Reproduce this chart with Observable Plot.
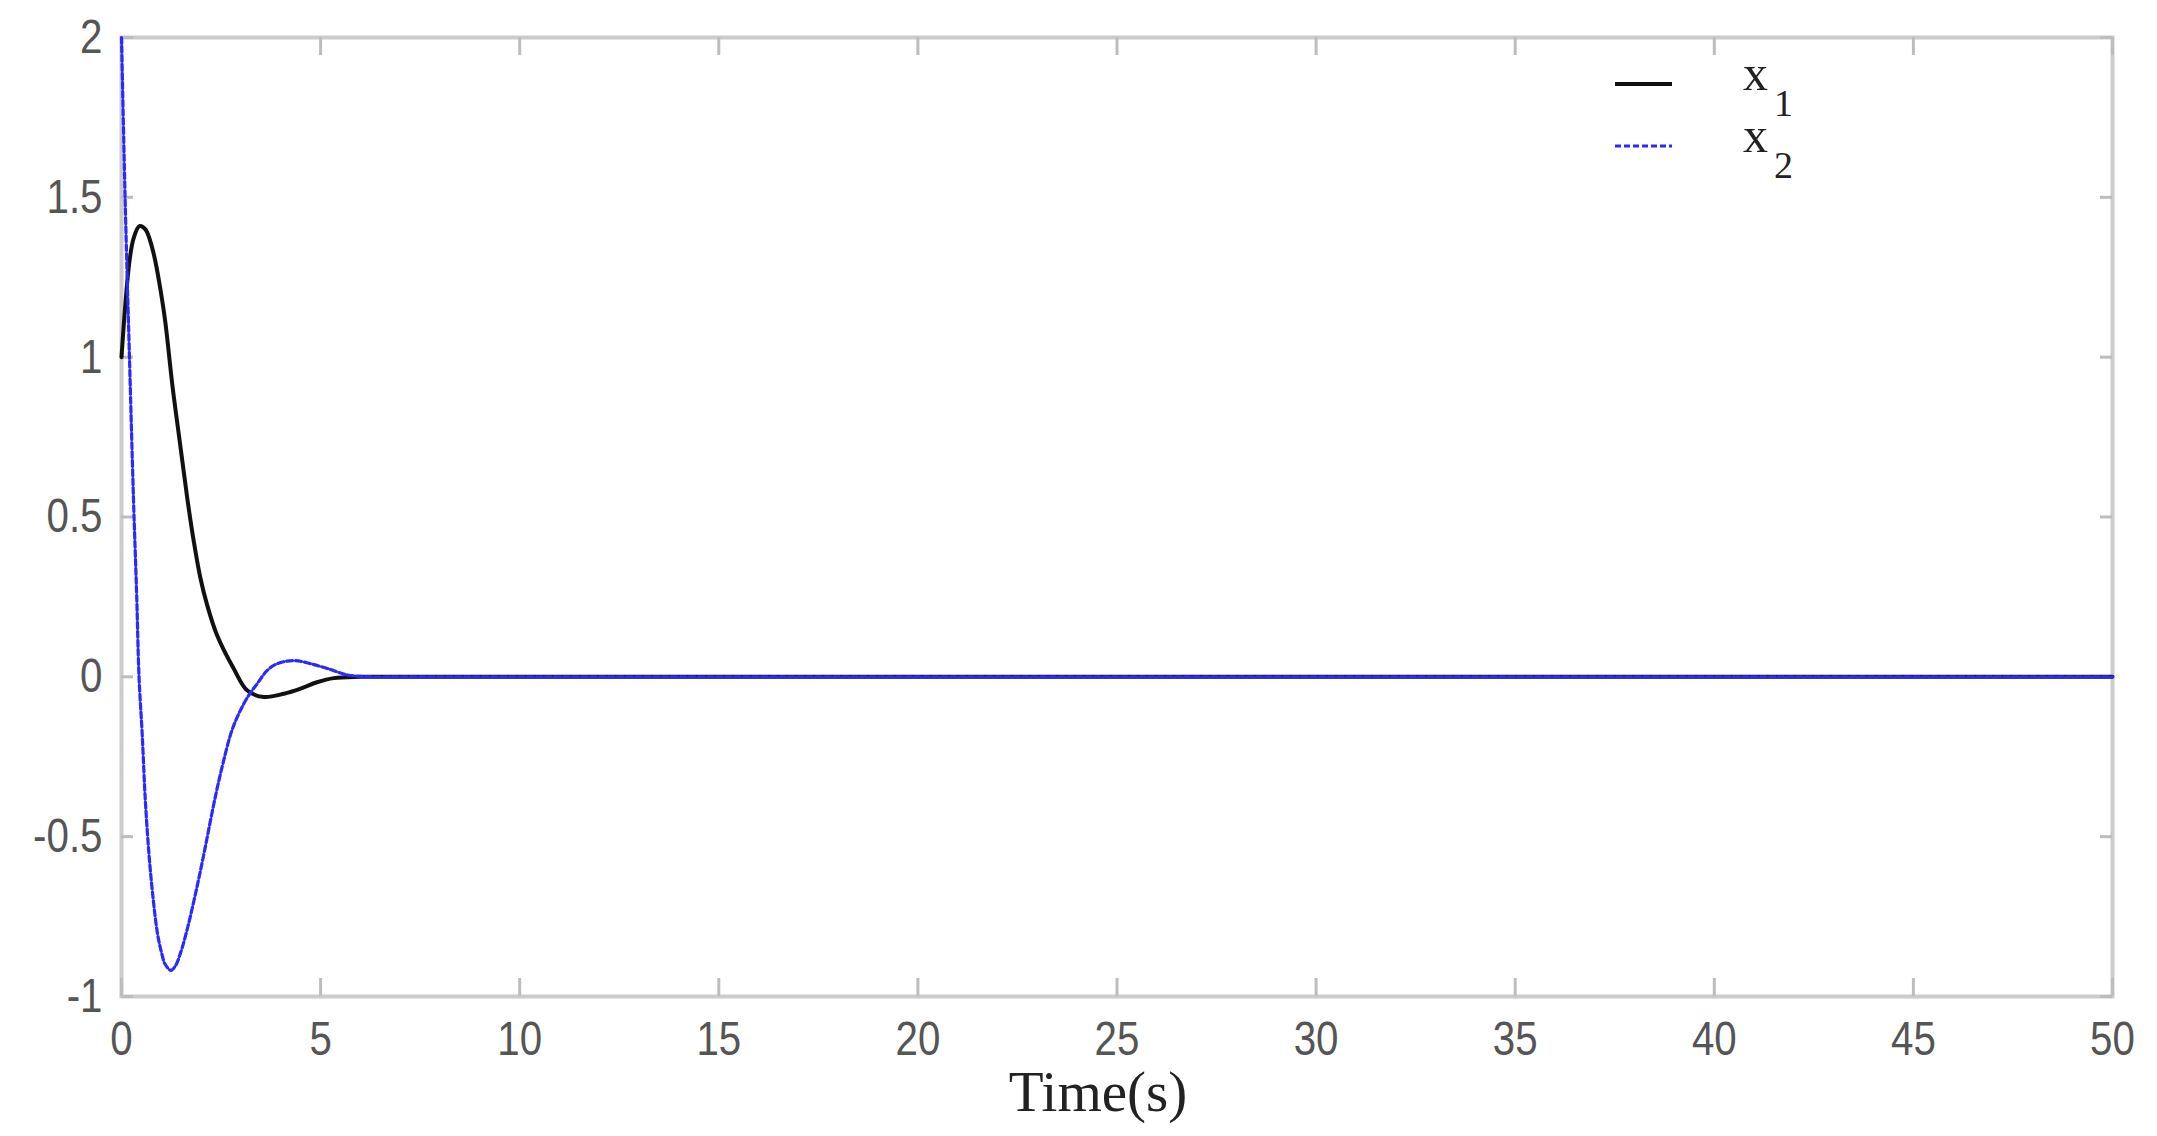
<!DOCTYPE html>
<html><head><meta charset="utf-8">
<script src="https://cdn.jsdelivr.net/npm/d3@7"></script>
<script src="https://cdn.jsdelivr.net/npm/@observablehq/plot@0.6"></script>
<style>
html,body{margin:0;padding:0;background:#fff;}
#wrap{position:relative;width:2157px;height:1136px;}
#legend{position:absolute;left:0;top:0;pointer-events:none;}
</style></head><body><div id="wrap"></div>
<script>
// Series x1 (black, solid)
const x1Time = [0, 0.1, 0.2, 0.3, 0.45, 0.6, 0.73, 0.85, 0.98, 1.1, 1.28, 1.48, 1.65, 1.82, 1.98, 2.15, 2.4, 2.82, 3.16, 3.57, 4.08, 4.5, 4.91, 5.33, 6, 7, 10, 20, 30, 40, 50];
const x1Value = [1.0, 1.17, 1.30, 1.37, 1.41, 1.40, 1.36, 1.30, 1.21, 1.11, 0.91, 0.72, 0.56, 0.42, 0.31, 0.225, 0.13, 0.025, -0.043, -0.063, -0.053, -0.037, -0.017, -0.004, 0, 0, 0, 0, 0, 0, 0];
// Series x2 (blue, dotted)
const x2Time = [0, 0.1, 0.2, 0.3, 0.38, 0.44, 0.52, 0.6, 0.7, 0.8, 0.9, 1.0, 1.1, 1.24, 1.35, 1.48, 1.67, 1.82, 1.96, 2.1, 2.25, 2.4, 2.55, 2.74, 2.91, 3.16, 3.41, 3.66, 3.91, 4.33, 4.75, 5.17, 5.67, 6.2, 7, 10, 20, 30, 40, 50];
const x2Value = [2.0, 1.45, 1.0, 0.56, 0.26, 0.0, -0.18, -0.39, -0.57, -0.70, -0.80, -0.86, -0.90, -0.918, -0.905, -0.865, -0.78, -0.70, -0.62, -0.535, -0.44, -0.35, -0.27, -0.18, -0.125, -0.065, -0.021, 0.02, 0.041, 0.051, 0.041, 0.026, 0.006, 0, 0, 0, 0, 0, 0, 0];
const seriesNames = ["x1", "x2"];
const xTicks = [0, 5, 10, 15, 20, 25, 30, 35, 40, 45, 50];
const yTicks = [-1, -0.5, 0, 0.5, 1, 1.5, 2];
const xLabel = "Time(s)";

const s1 = x1Time.map((t, i) => ({t, v: x1Value[i]}));
const s2 = x2Time.map((t, i) => ({t, v: x2Value[i]}));

const W = 2157, H = 1136;
const mL = 121, mR = 45, mT = 37, mB = 140;
const innerW = W - mL - mR, innerH = H - mT - mB;
const tickGray = "#bdbdbd";
const tickFont = "'Liberation Sans', Arial, sans-serif";

const chart = Plot.plot({
  width: W, height: H,
  marginLeft: mL, marginRight: mR, marginTop: mT, marginBottom: mB,
  style: {background: "#fff"},
  x: {domain: [0, 50]},
  y: {domain: [-1, 2]},
  marks: [
    Plot.frame({stroke: "#cccccc", strokeWidth: 4}),
    Plot.tickX(xTicks, {x: d => d, insetTop: innerH - 18, stroke: tickGray, strokeWidth: 3}),
    Plot.tickX(xTicks, {x: d => d, insetBottom: innerH - 18, stroke: tickGray, strokeWidth: 3}),
    Plot.tickY(yTicks, {y: d => d, insetRight: innerW - 12, stroke: tickGray, strokeWidth: 3}),
    Plot.tickY(yTicks, {y: d => d, insetLeft: innerW - 12, stroke: tickGray, strokeWidth: 3}),
    Plot.axisX({ticks: xTicks, tickSize: 0, tickPadding: 24, tickFormat: d => String(d),
      fontSize: 48, fontFamily: tickFont, fill: "#555", label: null}),
    Plot.axisY({ticks: yTicks, tickSize: 0, tickPadding: 19, tickFormat: d => String(d),
      fontSize: 48, fontFamily: tickFont, fill: "#555", label: null}),
    Plot.text([xLabel], {frameAnchor: "bottom", dy: 114, dx: -19, text: d => d,
      fontSize: 57, fontFamily: "Liberation Serif, Times New Roman, serif", fill: "#222", lineAnchor: "bottom"}),
    Plot.line(s1, {x: "t", y: "v", stroke: "#111", strokeWidth: 4, curve: "catmull-rom"}),
    Plot.line(s2, {x: "t", y: "v", stroke: "#2a2aff", strokeWidth: 3.2, strokeDasharray: "6,3", curve: "catmull-rom"})
  ]
});
// Narrow the tick-label glyphs horizontally (condensed look of the reference)
d3.select(chart).selectAll('g[aria-label="x-axis tick label"] text, g[aria-label="y-axis tick label"] text')
  .each(function() {
    const tr = this.getAttribute("transform") || "";
    this.setAttribute("transform", tr + " scale(0.84,1)");
  });
const wrap = document.getElementById("wrap");
wrap.appendChild(chart);

// Legend overlay
const ns = "http://www.w3.org/2000/svg";
const leg = document.createElementNS(ns, "svg");
leg.setAttribute("id", "legend");
leg.setAttribute("width", W);
leg.setAttribute("height", H);
const items = [
  {name: seriesNames[0], stroke: "#111", dash: null, w: 4, y: 84},
  {name: seriesNames[1], stroke: "#2a2aff", dash: "6,3", w: 3.2, y: 146}
];
items.forEach(it => {
  const ln = document.createElementNS(ns, "line");
  ln.setAttribute("x1", 1615); ln.setAttribute("x2", 1672);
  ln.setAttribute("y1", it.y); ln.setAttribute("y2", it.y);
  ln.setAttribute("stroke", it.stroke); ln.setAttribute("stroke-width", it.w);
  if (it.dash) ln.setAttribute("stroke-dasharray", it.dash);
  leg.appendChild(ln);
  const tx = document.createElementNS(ns, "text");
  tx.setAttribute("x", 1743); tx.setAttribute("y", it.y + 6);
  tx.setAttribute("font-family", "Liberation Serif, Times New Roman, serif");
  tx.setAttribute("font-size", 50); tx.setAttribute("fill", "#222");
  const a = document.createElementNS(ns, "tspan"); a.textContent = it.name[0];
  const b = document.createElementNS(ns, "tspan"); b.textContent = it.name.slice(1);
  b.setAttribute("font-size", 38); b.setAttribute("dy", 26); b.setAttribute("dx", 6);
  tx.appendChild(a); tx.appendChild(b);
  leg.appendChild(tx);
});
wrap.appendChild(leg);
</script></body></html>
